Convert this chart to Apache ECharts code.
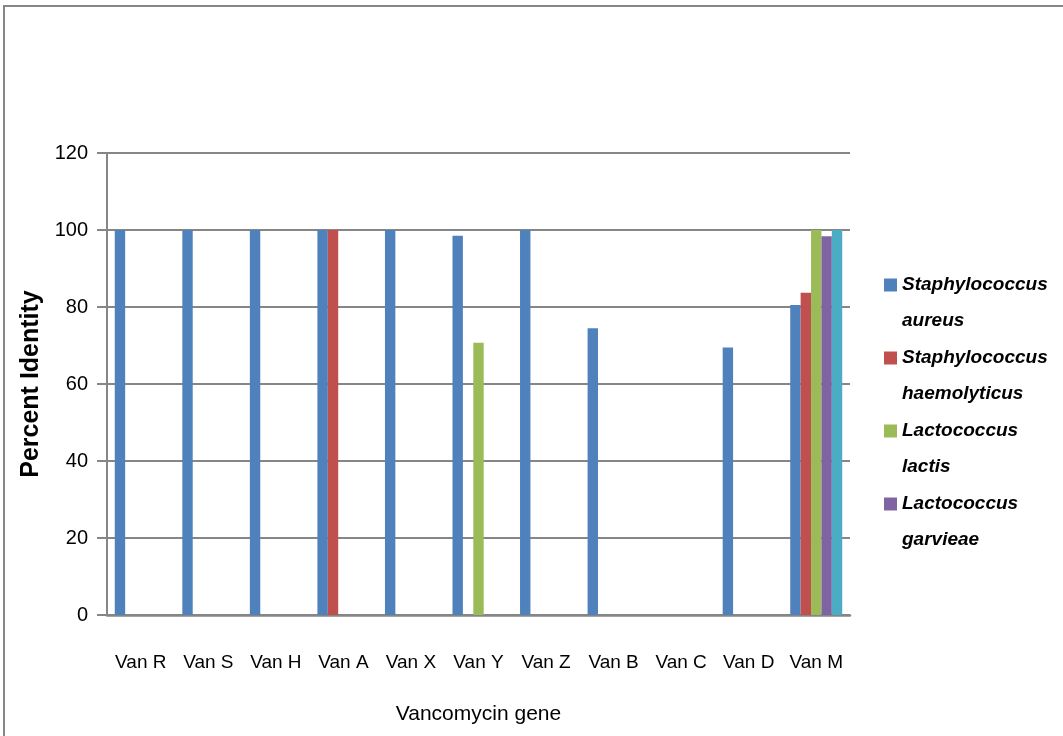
<!DOCTYPE html>
<html>
<head>
<meta charset="utf-8">
<script src="https://cdn.jsdelivr.net/npm/echarts@6/dist/echarts.min.js"></script>
<style>
  html, body { margin: 0; padding: 0; background: #fff; }
  #chart { width: 1063px; height: 736px; }
</style>
</head>
<body>
<div id="chart"></div>
<script>
// Vancomycin resistance genes and percent identity per organism
const genes = ['Van R', 'Van S', 'Van H', 'Van A', 'Van X', 'Van Y', 'Van Z', 'Van B', 'Van C', 'Van D', 'Van M'];
const staphAureus       = [100, 100, 100, 100, 100, 98.5, 100, 74.5, null, 69.5, 80.5];
const staphHaemolyticus = [null, null, null, 100, null, null, null, null, null, null, 83.7];
const lactoLactis       = [null, null, null, null, null, 70.7, null, null, null, null, 100];
const lactoGarvieae     = [null, null, null, null, null, null, null, null, null, null, 98.4];
const fifthSeries       = [null, null, null, null, null, null, null, null, null, null, 100];
const yTicks = { min: 0, max: 120, step: 20 };

const legendNames = [
  'Staphylococcus aureus',
  'Staphylococcus haemolyticus',
  'Lactococcus lactis',
  'Lactococcus garvieae'
];
const colors = ['#4F81BD', '#C0504D', '#9BBB59', '#8064A2', '#4BACC6'];
const seriesData = [staphAureus, staphHaemolyticus, lactoLactis, lactoGarvieae, fifthSeries];
const seriesNames = legendNames.concat(['Series 5']);

const font = '"Liberation Sans", Arial, sans-serif';
const gray = '#868686';

const chart = echarts.init(document.getElementById('chart'), null, { renderer: 'canvas' });

chart.setOption({
  animation: false,
  color: colors,
  // outer chart-area frame (only its top and left edges fall inside the page)
  graphic: [{
    type: 'rect',
    shape: { x: 4, y: 6, width: 1200, height: 900 },
    style: { fill: 'none', stroke: gray, lineWidth: 2 },
    silent: true
  }],
  grid: { left: 107, right: 213, top: 153, bottom: 121, containLabel: false },
  legend: {
    orient: 'vertical',
    left: 884,
    top: 231,
    padding: 0,
    itemWidth: 13,
    itemHeight: 13,
    itemGap: -35,
    icon: 'rect',
    data: legendNames,
    // leading blank line keeps the swatch level with the first line of each name
    formatter: function (name) {
      const parts = name.split(' ');
      return '\n' + parts[0] + '\n' + parts.slice(1).join(' ');
    },
    textStyle: {
      fontFamily: font,
      fontSize: 19,
      fontWeight: 'bold',
      fontStyle: 'italic',
      color: '#000',
      lineHeight: 36
    }
  },
  xAxis: {
    type: 'category',
    data: genes,
    name: 'Vancomycin gene',
    nameLocation: 'middle',
    nameGap: 89,
    nameTextStyle: { fontFamily: font, fontSize: 21, color: '#000' },
    axisLine: { lineStyle: { color: gray, width: 2.5 } },
    axisTick: { show: false },
    axisLabel: { interval: 0, hideOverlap: false, fontFamily: font, fontSize: 19, color: '#000', margin: 38 },
    splitLine: { show: false }
  },
  yAxis: {
    type: 'value',
    min: yTicks.min,
    max: yTicks.max,
    interval: yTicks.step,
    name: 'Percent Identity',
    nameLocation: 'middle',
    nameGap: 58,
    nameTextStyle: { fontFamily: font, fontSize: 25, fontWeight: 'bold', color: '#000' },
    axisLine: { show: true, lineStyle: { color: gray, width: 2 } },
    axisTick: { show: true, length: 10, lineStyle: { color: gray, width: 2 } },
    axisLabel: { fontFamily: font, fontSize: 20, color: '#000', margin: 19 },
    splitLine: { show: true, lineStyle: { color: gray, width: 2 } }
  },
  series: seriesData.map(function (d, i) {
    return {
      type: 'bar',
      name: seriesNames[i],
      data: d,
      barGap: '0%',
      barCategoryGap: '23%',
      itemStyle: { color: colors[i] }
    };
  })
});
</script>
</body>
</html>
